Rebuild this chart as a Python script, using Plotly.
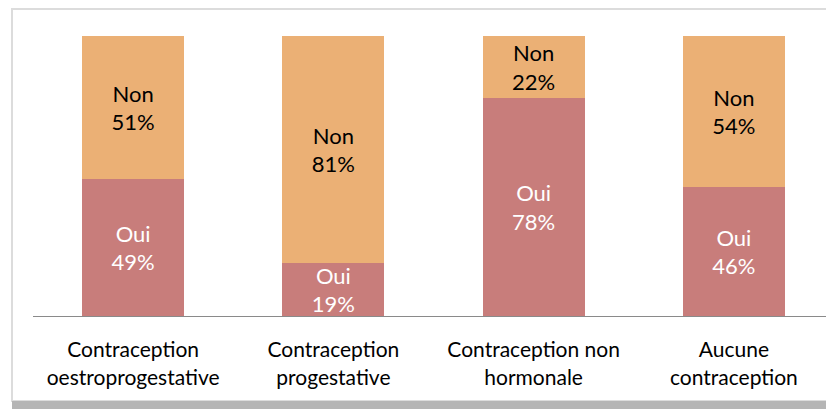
import plotly.graph_objects as go

# Données (pourcentages)
categories = ["Contraception<br>oestroprogestative", "Contraception<br>progestative",
              "Contraception non<br>hormonale", "Aucune<br>contraception"]
oui = [49, 19, 78, 46]
non = [51, 81, 22, 54]

COLOR_OUI = "#C87D7B"
COLOR_NON = "#EBB075"
FONT = "Lato, Open Sans, sans-serif"
BAR_TXT = 22

fig = go.Figure()
fig.add_trace(go.Bar(
    x=categories, y=oui, name="Oui", marker=dict(color=COLOR_OUI, line=dict(width=0)),
    text=[f"Oui<br>{v}%" for v in oui], textposition="inside", insidetextanchor="middle",
    textangle=0, constraintext="none", cliponaxis=False,
    textfont=dict(color="white", size=BAR_TXT, family=FONT),
))
fig.add_trace(go.Bar(
    x=categories, y=non, name="Non", marker=dict(color=COLOR_NON, line=dict(width=0)),
    text=[f"Non<br>{v}%" for v in non], textposition="inside", insidetextanchor="middle",
    textangle=0, constraintext="none",
    textfont=dict(color="black", size=BAR_TXT, family=FONT),
))

# la page html ajoute 8px de marge autour de la figure
fig.update_layout(
    barmode="stack",
    bargap=0.49,
    width=826, height=401,
    margin=dict(l=25, r=0, t=28, b=93),
    paper_bgcolor="white",
    plot_bgcolor="white",
    showlegend=False,
    uniformtext=dict(minsize=BAR_TXT, mode="show"),
    font=dict(family=FONT, size=21, color="black"),
)
fig.update_yaxes(range=[0, 100], visible=False, showgrid=False)
fig.update_xaxes(showline=True, linecolor="#8a8a8a", linewidth=1, ticks="",
                 tickfont=dict(size=21, family=FONT, color="black"), ticklabelstandoff=15)

# cadre gris clair autour du graphique + ombre en bas
fig.add_shape(type="rect", xref="paper", yref="paper",
              x0=-21 / 801, x1=1.01, y0=-85 / 280, y1=1 + 27 / 280,
              line=dict(color="#dcdcdc", width=2), fillcolor="rgba(0,0,0,0)", layer="below")
fig.add_shape(type="rect", xref="paper", yref="paper",
              x0=-21 / 801, x1=1.01, y0=-93 / 280, y1=-85 / 280,
              line=dict(width=0), fillcolor="#b5b5b5", layer="below")

fig.write_html("out.html")
